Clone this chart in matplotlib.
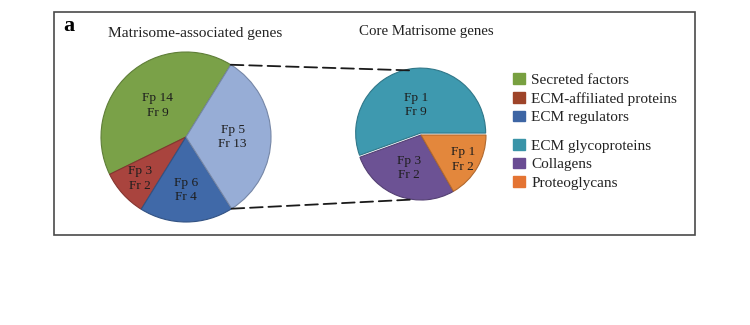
import matplotlib
matplotlib.use("Agg")
import matplotlib.pyplot as plt
from matplotlib.patches import Rectangle, Patch, ConnectionPatch
import numpy as np

# ---------------- data ----------------
assoc_names = ["Secreted factors", "ECM-affiliated proteins", "ECM regulators", "Core matrisome"]
assoc_fp = [14, 3, 6, 5]
assoc_fr = [9, 2, 4, 13]
assoc_colors = ["#7AA148", "#A9443E", "#4069A8", "#97ADD6"]

core_names = ["ECM glycoproteins", "Collagens", "Proteoglycans"]
core_fp = [1, 3, 1]
core_fr = [9, 2, 2]
core_colors = ["#3E99AF", "#6C5294", "#E3873C"]

legend_assoc_colors = ["#78A040", "#9E4429", "#3D65A4"]
legend_core_colors = ["#3A94A8", "#6A4C93", "#E47433"]

# ---------------- style ----------------
plt.rcParams["font.family"] = ["Liberation Serif", "DejaVu Serif"]
W, H = 750, 325
fig = plt.figure(figsize=(W / 100, H / 100), dpi=100)


def darker(c, f=0.78):
    rgb = np.array(matplotlib.colors.to_rgb(c))
    return tuple(rgb * f)


def pie_axes(cx, cy, r, pad=6):
    # cx, cy in pixels from the top-left corner
    side = 2 * (r + pad)
    ax = fig.add_axes([(cx - r - pad) / W, (H - cy - r - pad) / H, side / W, side / H])
    return ax, (r + pad) / r


def draw_pie(ax, lim, fp, fr, colors, start, dists, explode=None):
    sizes = [a + b for a, b in zip(fp, fr)]
    wedges, _ = ax.pie(sizes, colors=colors, startangle=start, counterclock=True,
                       explode=explode,
                       wedgeprops=dict(linewidth=0.8))
    for w, c in zip(wedges, colors):
        w.set_edgecolor(darker(c))
    for w, a, b, d in zip(wedges, fp, fr, dists):
        mid = np.deg2rad((w.theta1 + w.theta2) / 2)
        x = w.center[0] + d * np.cos(mid)
        y = w.center[1] + d * np.sin(mid)
        ax.text(x, y, f"Fp {a}\nFr {b}", ha="center", va="center",
                fontsize=9.6, color="#1e1e1e", linespacing=1.25)
    ax.set_xlim(-lim, lim)
    ax.set_ylim(-lim, lim)
    ax.set_aspect("equal")
    ax.axis("off")
    return wedges


ax1, lim1 = pie_axes(186, 137, 85)
w1 = draw_pie(ax1, lim1, assoc_fp, assoc_fr, assoc_colors, 58.2, [0.5, 0.73, 0.62, 0.55])

ax2, lim2 = pie_axes(421, 135, 65)
w2 = draw_pie(ax2, lim2, core_fp, core_fr, core_colors, 0, [0.44, 0.54, 0.75],
              explode=[0.03, 0, 0])

# dashed zoom lines from the core matrisome wedge to the second pie
core_w = w1[3]
for th1, th2 in [(core_w.theta2, 97), (core_w.theta1, 263)]:
    a = np.deg2rad(th1)
    b = np.deg2rad(th2)
    con = ConnectionPatch(xyA=(np.cos(a), np.sin(a)), coordsA=ax1.transData,
                          xyB=(np.cos(b), np.sin(b)), coordsB=ax2.transData,
                          color="#1a1a1a", lw=1.3, linestyle=(0, (7, 3.2)))
    fig.add_artist(con)

# frame
fig.add_artist(Rectangle((54 / W, (H - 235) / H), 641 / W, 223 / H, transform=fig.transFigure,
                         fill=False, ec="#4a4a4a", lw=1.2))

# titles
fig.text(63 / W, 1 - 26 / H, "a", fontsize=16, fontweight="bold", ha="left", va="center")
fig.text(195 / W, 1 - 33 / H, "Matrisome-associated genes", fontsize=11.1, ha="center",
         va="center", color="#222222")
fig.text(426 / W, 1 - 31 / H, "Core Matrisome genes", fontsize=10.7, ha="center",
         va="center", color="#222222")

# legends
leg_kw = dict(frameon=False, fontsize=11, handlelength=0.8, handleheight=0.7,
              handletextpad=0.4, labelspacing=0.33, borderpad=0, borderaxespad=0,
              loc="upper left")
h1 = [Patch(color=c) for c in legend_assoc_colors]
leg1 = fig.legend(h1, assoc_names[:3], bbox_to_anchor=(513 / W, 1 - 73 / H), **leg_kw)
h2 = [Patch(color=c) for c in legend_core_colors]
leg2 = fig.legend(h2, core_names, bbox_to_anchor=(513 / W, 1 - 139 / H), **leg_kw)
for leg in (leg1, leg2):
    for t in leg.get_texts():
        t.set_color("#222222")

fig.savefig("out.png", dpi=100)
